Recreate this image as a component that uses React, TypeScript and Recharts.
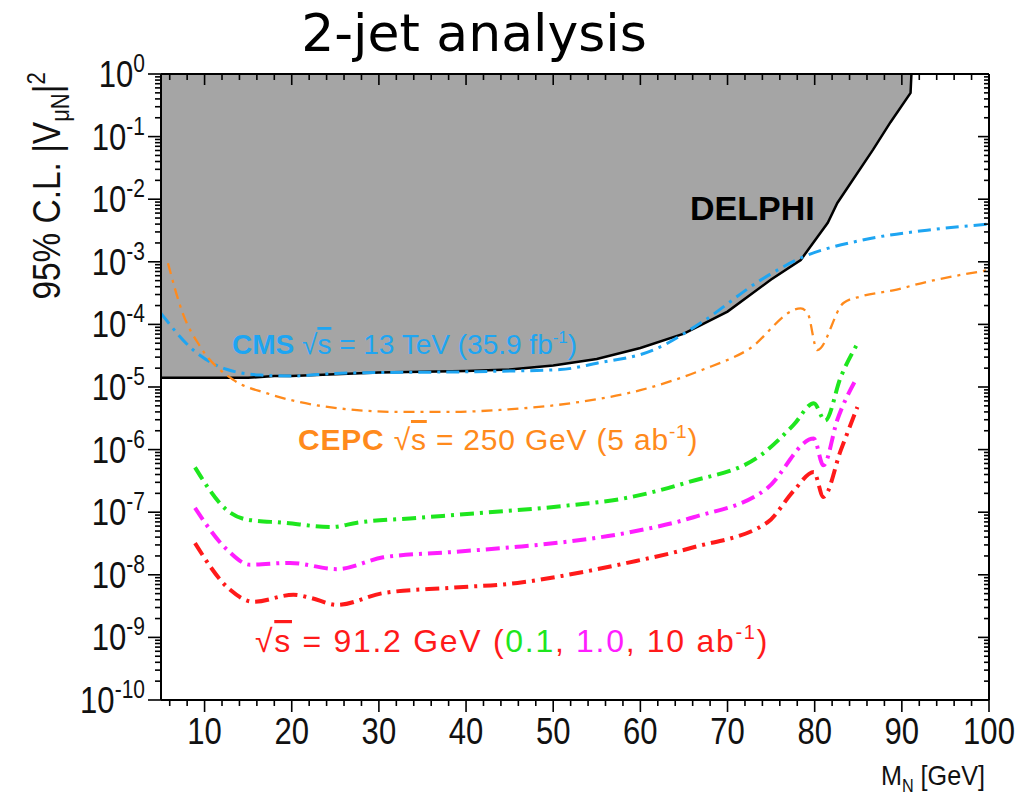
import { Area, ComposedChart, Line, Scatter, XAxis, YAxis } from "recharts";

// M_N [GeV] and |V_muN|^2
const DELPHI_M = [5, 15, 18, 20, 25, 30, 40, 45, 50, 55, 60, 65, 70, 75, 78.4, 81.5, 82.6, 86.7, 88.7, 91, 91.1];
const DELPHI_V = [1.4e-5, 1.4e-5, 1.5e-5, 1.5e-5, 1.6e-5, 1.7e-5, 1.8e-5, 1.9e-5, 2.2e-5, 2.8e-5, 4.2e-5, 7.1e-5, 1.6e-4, 5.2e-4, 1.07e-3, 4.2e-3, 8.7e-3, 6.2e-2, 0.17, 0.5, 1];

const CMS_M = [5, 8.7, 12.6, 16.4, 20, 25, 30, 40, 50.8, 55, 61.5, 66.9, 73.8, 78.4, 85.3, 92.9, 100];
const CMS_V = [1.5e-4, 3.9e-5, 1.9e-5, 1.55e-5, 1.5e-5, 1.65e-5, 1.7e-5, 1.75e-5, 1.9e-5, 2.4e-5, 3.9e-5, 1.05e-4, 5.1e-4, 1.15e-3, 2.2e-3, 3.2e-3, 4.0e-3];

const CEPC_M = [5.8, 7.5, 9.5, 13.3, 17.2, 22.9, 32.4, 38.2, 43.9, 52, 60, 67.2, 72.3, 78.4, 79.2, 80.3, 83.3, 85.3, 89, 92.9, 100];
const CEPC_V = [9.5e-4, 1.5e-4, 4.4e-5, 1.3e-5, 7.9e-6, 5.1e-6, 4.0e-6, 4.0e-6, 4.3e-6, 5.5e-6, 8.9e-6, 1.9e-5, 3.9e-5, 1.8e-4, 1.5e-4, 3.9e-5, 2.2e-4, 2.8e-4, 3.5e-4, 4.8e-4, 7.4e-4];

const Z01_M = [8.9, 12.6, 14.9, 19, 24.6, 27.5, 34.4, 42, 51, 58.5, 65.4, 73.8, 77.6, 79.9, 81.2, 83, 85];
const Z01_V = [5.2e-7, 1.07e-7, 7.6e-8, 6.8e-8, 5.8e-8, 6.8e-8, 8.1e-8, 9.8e-8, 1.25e-7, 1.7e-7, 3.0e-7, 8.1e-7, 2.5e-6, 5.5e-6, 2.9e-6, 1.45e-5, 5.2e-5];

const Z1_M = [8.9, 12.6, 15.2, 19.8, 25.2, 30.5, 38.2, 45.9, 51, 58.5, 66.1, 74.6, 79.9, 81, 82.6, 84.7];
const Z1_V = [1.17e-7, 2.5e-8, 1.45e-8, 1.55e-8, 1.23e-8, 1.9e-8, 2.3e-8, 2.8e-8, 3.3e-8, 4.7e-8, 8.3e-8, 2.45e-7, 1.5e-6, 5.6e-7, 3.0e-6, 1.3e-5];

const Z10_M = [8.9, 12.9, 15.6, 20.2, 22.1, 25.2, 30.5, 38.2, 45.9, 51, 58.5, 66.1, 74.6, 77.6, 79.9, 81, 83, 84.9];
const Z10_V = [3.2e-8, 5.8e-9, 3.7e-9, 4.8e-9, 4.3e-9, 3.3e-9, 5.1e-9, 6.2e-9, 7.4e-9, 9.6e-9, 1.55e-8, 2.75e-8, 6.9e-8, 2.2e-7, 4.4e-7, 1.75e-7, 9.8e-7, 4.8e-6];

const X_MAJOR = [10, 20, 30, 40, 50, 60, 70, 80, 90, 100];
const X_MINOR = [6, 8, 12, 14, 16, 18, 22, 24, 26, 28, 32, 34, 36, 38, 42, 44, 46, 48, 52, 54, 56, 58, 62, 64, 66, 68, 72, 74, 76, 78, 82, 84, 86, 88, 92, 94, 96, 98];
const Y_EXPONENTS = [-10, -9, -8, -7, -6, -5, -4, -3, -2, -1, 0];
const Y_MANTISSAS = [2, 3, 4, 5, 6, 7, 8, 9];
const X_MIN = 5;
const X_MAX = 100;
const Y_MIN = 1e-10;
const Y_MAX = 1;

const toData = (m: number[], v: number[]) => m.map((x, i) => ({ m: x, v: v[i] }));

const yMajor = Y_EXPONENTS.map((e) => Number(Math.pow(10, e).toPrecision(3)));
const yMinor: number[] = [];
Y_EXPONENTS.slice(0, -1).forEach((e) => {
  Y_MANTISSAS.forEach((k) => yMinor.push(Number((k * Math.pow(10, e)).toPrecision(3))));
});
const xAll = [...X_MINOR, ...X_MAJOR];
const yAll = [...yMinor, ...yMajor];

// tick marks drawn as scatter points sitting on the frame
const bottomMarks = xAll.map((m) => ({ m, v: Y_MIN }));
const topMarks = xAll.map((m) => ({ m, v: Y_MAX }));
const leftMarks = yAll.map((v) => ({ m: X_MIN, v }));
const rightMarks = yAll.map((v) => ({ m: X_MAX, v }));

const FONT = "'Liberation Sans', Arial, sans-serif";
const BLUE = "#1ea5f2";
const ORANGE = "#ff8a1c";
const GREEN = "#1ee61e";
const MAGENTA = "#ff1eff";
const RED = "#ff1a1a";
const AXIS = { stroke: "#000", strokeWidth: 2 };
const THIN = 0.01;

const isMajorX = (m: number) => X_MAJOR.includes(m);
const isMajorY = (v: number) => yMajor.includes(v);

function XLabel(props: any) {
  const { x, y, payload } = props;
  return (
    <text transform={`translate(${x},${y + 44}) scale(0.84,1)`} textAnchor="middle" fontSize={37} fontFamily={FONT} fill="#111">
      {payload.value}
    </text>
  );
}

function YLabel(props: any) {
  const { x, y, payload } = props;
  const e = Math.round(Math.log10(payload.value));
  return (
    <text transform={`translate(${x - 16},${y + 13}) scale(0.84,1)`} textAnchor="end" fontSize={37} fontFamily={FONT} fill="#111">
      10
      <tspan dy={-15} fontSize={25}>
        {e}
      </tspan>
    </text>
  );
}

const tickShape = (side: "b" | "t" | "l" | "r") => (p: any) => {
  const { cx, cy, payload } = p;
  if (cx == null || cy == null) return <g />;
  if (side === "b" || side === "t") {
    const len = isMajorX(payload.m) ? (side === "b" ? 12 : 11) : 6;
    return <line x1={cx} x2={cx} y1={cy} y2={cy + len} stroke="#000" strokeWidth={1.6} />;
  }
  const len = isMajorY(payload.v) ? (side === "l" ? 13 : 11) : side === "l" ? 6 : 5;
  return <line x1={cx} x2={cx - len} y1={cy} y2={cy} stroke="#000" strokeWidth={1.6} />;
};

export default function App() {
  const dash = "14 6 3 6";
  const xCommon = { dataKey: "m", type: "number" as const, domain: [X_MIN, X_MAX], allowDataOverflow: true, interval: 0, height: THIN };
  const yCommon = { type: "number" as const, scale: "log" as const, domain: [Y_MIN, Y_MAX], allowDataOverflow: true, interval: 0, width: THIN };
  return (
    <div style={{ position: "absolute", left: 0, top: 0, width: 1020, height: 801, background: "#fff" }}>
      <ComposedChart width={1020} height={801} margin={{ top: 74, right: 31, bottom: 101, left: 161 }}>
        <XAxis {...xCommon} xAxisId="b" ticks={X_MAJOR} tickSize={0} tickMargin={0} tickLine={false} axisLine={AXIS} tick={(p: any) => <XLabel {...p} />} />
        <XAxis {...xCommon} xAxisId="t" orientation="top" mirror ticks={X_MAJOR} tickLine={false} axisLine={AXIS} tick={false} />
        <YAxis {...yCommon} yAxisId="l" mirror ticks={yMajor} tickSize={0} tickMargin={0} tickLine={false} axisLine={AXIS} tick={(p: any) => <YLabel {...p} />} />
        <YAxis {...yCommon} yAxisId="r" orientation="right" mirror ticks={yMajor} tickLine={false} axisLine={AXIS} tick={false} />
        <XAxis xAxisId="hx" dataKey="m" type="number" domain={[X_MIN, X_MAX]} hide />
        <YAxis yAxisId="hy" type="number" scale="log" domain={[Y_MIN, Y_MAX]} hide />
        <Area
          xAxisId="b"
          yAxisId="l"
          data={toData(DELPHI_M, DELPHI_V)}
          dataKey="v"
          baseValue={1}
          type="linear"
          fill="#a5a5a5"
          fillOpacity={1}
          stroke="none"
          isAnimationActive={false}
        />
        <Line xAxisId="b" yAxisId="l" data={toData(DELPHI_M, DELPHI_V)} dataKey="v" type="linear" stroke="#000" strokeWidth={2.5} dot={false} isAnimationActive={false} />
        <Line xAxisId="b" yAxisId="l" data={toData(CMS_M, CMS_V)} dataKey="v" type="monotone" stroke={BLUE} strokeWidth={3} strokeDasharray="13 6 3 6" dot={false} isAnimationActive={false} />
        <Line xAxisId="b" yAxisId="l" data={toData(CEPC_M, CEPC_V)} dataKey="v" type="monotone" stroke={ORANGE} strokeWidth={2.3} strokeDasharray="11 6 3 6" dot={false} isAnimationActive={false} />
        <Line xAxisId="b" yAxisId="l" data={toData(Z01_M, Z01_V)} dataKey="v" type="monotone" stroke={GREEN} strokeWidth={4} strokeDasharray={dash} dot={false} isAnimationActive={false} />
        <Line xAxisId="b" yAxisId="l" data={toData(Z1_M, Z1_V)} dataKey="v" type="monotone" stroke={MAGENTA} strokeWidth={4} strokeDasharray={dash} dot={false} isAnimationActive={false} />
        <Line xAxisId="b" yAxisId="l" data={toData(Z10_M, Z10_V)} dataKey="v" type="monotone" stroke={RED} strokeWidth={4} strokeDasharray={dash} dot={false} isAnimationActive={false} />
        <Scatter xAxisId="hx" yAxisId="hy" data={bottomMarks} dataKey="v" shape={tickShape("b")} isAnimationActive={false} />
        <Scatter xAxisId="hx" yAxisId="hy" data={topMarks} dataKey="v" shape={tickShape("t")} isAnimationActive={false} />
        <Scatter xAxisId="hx" yAxisId="hy" data={leftMarks} dataKey="v" shape={tickShape("l")} isAnimationActive={false} />
        <Scatter xAxisId="hx" yAxisId="hy" data={rightMarks} dataKey="v" shape={tickShape("r")} isAnimationActive={false} />
      </ComposedChart>
      <svg width={1020} height={801} style={{ position: "absolute", left: 0, top: 0, pointerEvents: "none" }}>
        <text x={474} y={51} textAnchor="middle" fontSize={52} fontFamily="'DejaVu Sans', sans-serif" fill="#000">
          2-jet analysis
        </text>
        <text transform="translate(60,186) rotate(-90) scale(0.88,1)" textAnchor="middle" fontSize={38} fontFamily={FONT} fill="#111">
          95% C.L. |V
          <tspan dy={9} fontSize={25}>μN</tspan>
          <tspan dy={-9}>|</tspan>
          <tspan dy={-15} fontSize={25}>2</tspan>
        </text>
        <text transform="translate(985,785) scale(0.9,1)" textAnchor="end" fontSize={28} fontFamily={FONT} fill="#111">
          M<tspan dy={7} fontSize={18}>N</tspan>
          <tspan dy={-7}> [GeV]</tspan>
        </text>
        <text x={690} y={220} fontSize={34} fontWeight="bold" fontFamily={FONT} fill="#000">
          DELPHI
        </text>
        <text x={232} y={354} fontSize={28} fontFamily={FONT} fill={BLUE}>
          <tspan fontWeight="bold">CMS</tspan> √<tspan style={{ textDecoration: "overline" }}>s</tspan> = 13 TeV (35.9 fb
          <tspan dy={-11} fontSize={17}>-1</tspan>
          <tspan dy={11}>)</tspan>
        </text>
        <text x={298} y={450} fontSize={30} fontFamily={FONT} fill={ORANGE} letterSpacing={0.8}>
          <tspan fontWeight="bold">CEPC</tspan> √<tspan style={{ textDecoration: "overline" }}>s</tspan> = 250 GeV (5 ab
          <tspan dy={-12} fontSize={19}>-1</tspan>
          <tspan dy={12}>)</tspan>
        </text>
        <text x={255} y={652} fontSize={32} fontFamily={FONT} fill={RED} letterSpacing={1.7}>
          √<tspan style={{ textDecoration: "overline" }}>s</tspan> = 91.2 GeV (
          <tspan fill={GREEN}>0.1</tspan>, <tspan fill={MAGENTA}>1.0</tspan>, 10 ab
          <tspan dy={-13} fontSize={20}>-1</tspan>
          <tspan dy={13}>)</tspan>
        </text>
      </svg>
    </div>
  );
}
